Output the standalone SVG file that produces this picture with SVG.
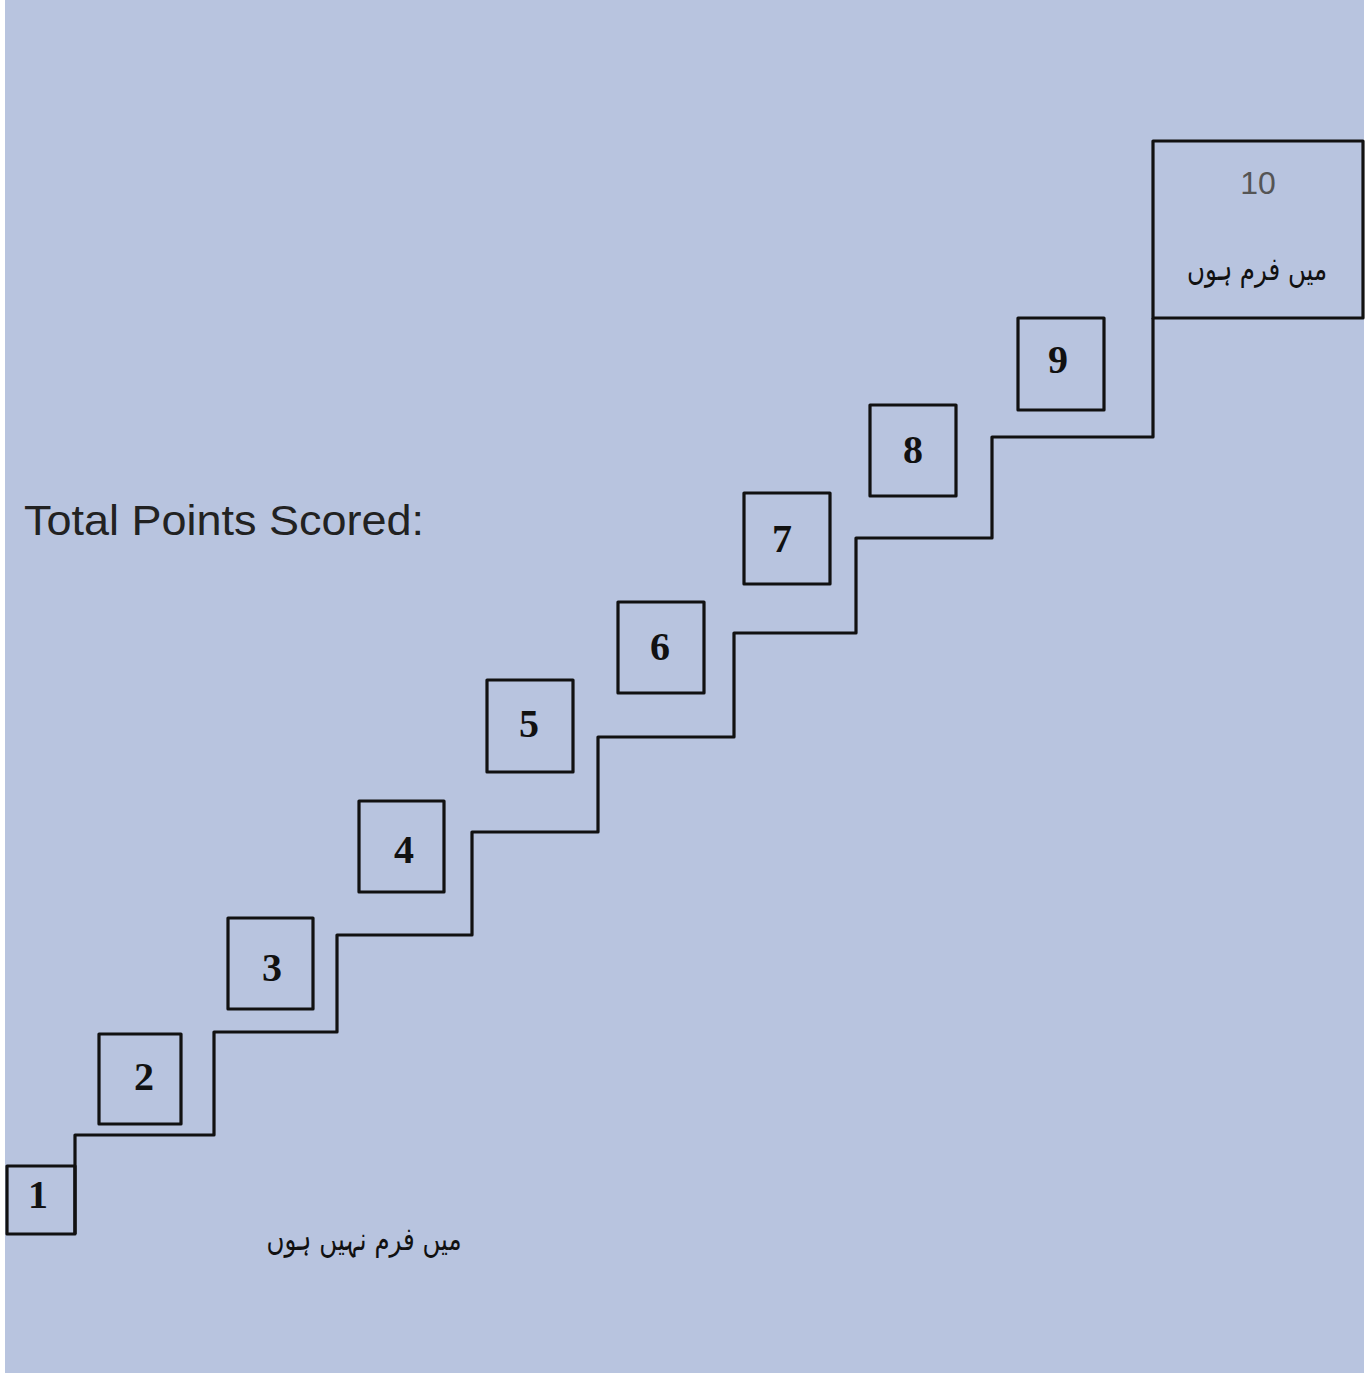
<svg xmlns="http://www.w3.org/2000/svg" width="1372" height="1373" viewBox="0 0 1372 1373">
<style>
.box{fill:none;stroke:#111;stroke-width:3.2;stroke-linejoin:round}
.num{font-family:"Liberation Serif",serif;font-weight:bold;font-size:40px;fill:#111;text-anchor:middle}
.urdu{font-family:"DejaVu Sans","Noto Sans",sans-serif;font-size:32px;fill:#111;text-anchor:middle}
</style>
<rect x="0" y="0" width="1372" height="1373" fill="#ffffff"/>
<rect x="5" y="0" width="1359" height="1373" fill="#B8C4DF"/>
<g id="connectors">
<polyline class="box" points="75,1234 75,1135 214,1135 214,1032 337,1032 337,935 472,935 472,832 598,832 598,737 734,737 734,633 856,633 856,538 992,538 992,437 1153,437 1153,318"/>
</g>
<g id="label-total"><text x="24" y="535" font-family="Liberation Sans,Arial,sans-serif" font-size="42" fill="#222" textLength="400" lengthAdjust="spacingAndGlyphs">Total Points Scored:</text></g>
<g id="node1"><rect class="box" x="7" y="1166" width="68" height="68"/><text class="num" x="38" y="1208">1</text></g>
<g id="node2"><rect class="box" x="99" y="1034" width="82" height="90"/><text class="num" x="144" y="1090">2</text></g>
<g id="node3"><rect class="box" x="228" y="918" width="85" height="91"/><text class="num" x="272" y="981">3</text></g>
<g id="node4"><rect class="box" x="359" y="801" width="85" height="91"/><text class="num" x="404" y="863">4</text></g>
<g id="node5"><rect class="box" x="487" y="680" width="86" height="92"/><text class="num" x="529" y="737">5</text></g>
<g id="node6"><rect class="box" x="618" y="602" width="86" height="91"/><text class="num" x="660" y="660">6</text></g>
<g id="node7"><rect class="box" x="744" y="493" width="86" height="91"/><text class="num" x="782" y="552">7</text></g>
<g id="node8"><rect class="box" x="870" y="405" width="86" height="91"/><text class="num" x="913" y="463">8</text></g>
<g id="node9"><rect class="box" x="1018" y="318" width="86" height="92"/><text class="num" x="1058" y="373">9</text></g>
<g id="node10"><rect class="box" x="1153" y="141" width="210" height="177"/>
<text x="1258" y="194" font-family="Liberation Sans,Arial,sans-serif" font-size="32" fill="#555" text-anchor="middle">10</text>
<text class="urdu" x="1257" y="280" direction="rtl" textLength="140" lengthAdjust="spacingAndGlyphs">میں فرم ہوں</text></g>
<g id="label-not"><text class="urdu" x="364" y="1250" direction="rtl" textLength="195" lengthAdjust="spacingAndGlyphs">میں فرم نہیں ہوں</text></g>
</svg>
